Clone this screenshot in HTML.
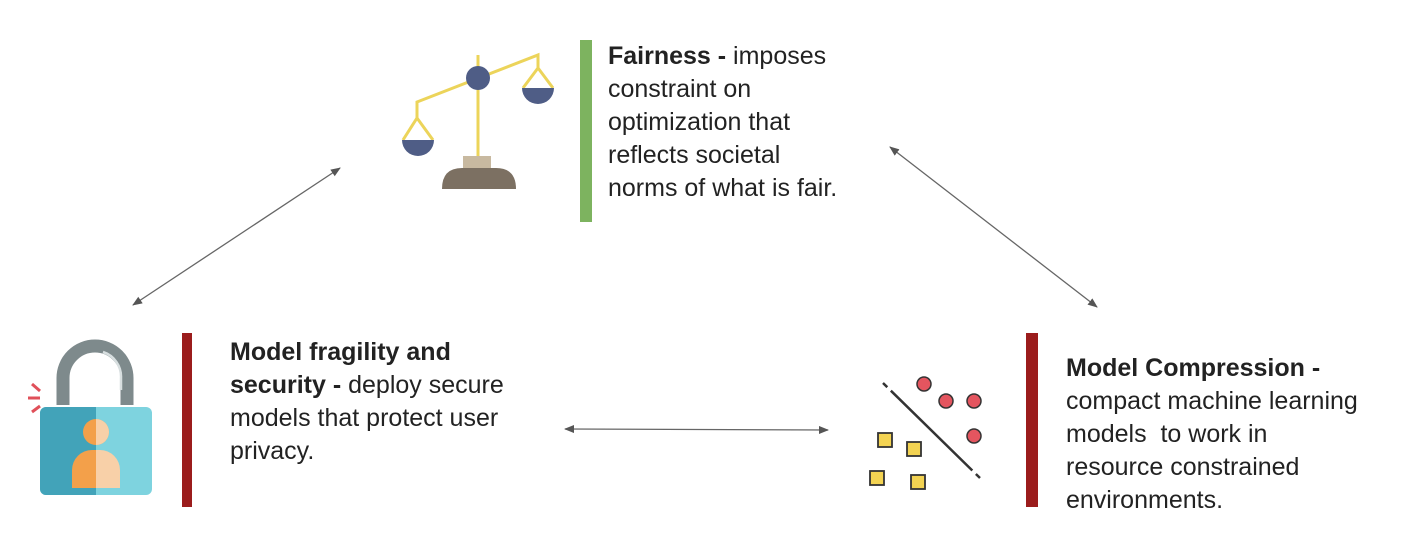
<!DOCTYPE html>
<html><head><style>
body{margin:0;width:1410px;height:552px;background:#fff;position:relative;overflow:hidden;font-family:"Liberation Sans",sans-serif;color:#222}
.t{position:absolute;font-size:25px;line-height:33px;white-space:nowrap}
b{font-weight:bold}
</style></head><body>
<svg width="1410" height="552" style="position:absolute;left:0;top:0">
<defs><marker id="a" markerWidth="10" markerHeight="8" refX="9" refY="4" orient="auto-start-reverse" markerUnits="userSpaceOnUse"><path d="M0,0 L10,4 L0,8 z" fill="#555"/></marker></defs>
<g stroke="#666" stroke-width="1.3" marker-start="url(#a)" marker-end="url(#a)">
<line x1="133" y1="305" x2="340" y2="168"/>
<line x1="890" y1="147" x2="1097" y2="307"/>
<line x1="565" y1="429" x2="828" y2="430"/>
</g>
<rect x="580" y="40" width="12" height="182" fill="#7db35f"/>
<rect x="182" y="333" width="10" height="174" fill="#9b1c1c"/>
<rect x="1026" y="333" width="12" height="174" fill="#9b1c1c"/>
<g stroke="#ecd45a" stroke-width="3" fill="none">
<line x1="478" y1="55" x2="478" y2="158"/>
<polyline points="417,118 417,102 538,55 538,68"/>
<path d="M403,140 L417,118 L433,140"/>
<path d="M523,88 L538,68 L553,88"/>
</g>
<circle cx="478" cy="78" r="12" fill="#4f5d86"/>
<path d="M402,140 A16,16 0 0 0 434,140 Z" fill="#4f5d86"/>
<path d="M522,88 A16,16 0 0 0 554,88 Z" fill="#4f5d86"/>
<rect x="463" y="156" width="28" height="12" fill="#c8b9a0"/>
<path d="M442,189 Q442,168 462,168 L496,168 Q516,168 516,189 Z" fill="#7c7062"/>
<path d="M63,405 L63,378 A32,32 0 0 1 127,378 L127,405" stroke="#7e8a8c" stroke-width="13" fill="none"/>
<path d="M103,352 A26,26 0 0 1 121,378 L121,390" stroke="#d8dfe0" stroke-width="2.5" fill="none"/>
<g stroke="#e0505a" stroke-width="3"><line x1="28" y1="398" x2="40" y2="398"/><line x1="32" y1="384" x2="40" y2="391"/><line x1="32" y1="412" x2="40" y2="406"/></g>
<rect x="40" y="407" width="112" height="88" rx="6" fill="#7ed3df"/>
<path d="M46,407 L96,407 L96,495 L46,495 A6,6 0 0 1 40,489 L40,413 A6,6 0 0 1 46,407Z" fill="#42a3b9"/>
<circle cx="96" cy="432" r="13" fill="#f3a04a"/>
<path d="M72,488 L72,470 A20,20 0 0 1 92,450 L96,450 L96,488Z" fill="#f3a04a"/>
<path d="M96,419 A13,13 0 0 1 96,445Z" fill="#f8d0a8"/>
<path d="M96,450 L100,450 A20,20 0 0 1 120,470 L120,488 L96,488Z" fill="#f8d0a8"/>
<line x1="883" y1="383" x2="980" y2="478" stroke="#333" stroke-width="2.5" stroke-dasharray="6,5,114,5,6"/>
<g fill="#e4555f" stroke="#333" stroke-width="1.5">
<circle cx="924" cy="384" r="7"/><circle cx="946" cy="401" r="7"/><circle cx="974" cy="401" r="7"/><circle cx="974" cy="436" r="7"/></g>
<g fill="#f3d352" stroke="#333" stroke-width="1.8">
<rect x="878" y="433" width="14" height="14"/><rect x="907" y="442" width="14" height="14"/><rect x="870" y="471" width="14" height="14"/><rect x="911" y="475" width="14" height="14"/></g>
</svg>
<div class="t" style="left:608px;top:40px"><b>Fairness -</b> imposes<br>constraint on<br>optimization that<br>reflects societal<br>norms of what is fair.</div>
<div class="t" style="left:230px;top:336px"><b>Model fragility and<br>security -</b> deploy secure<br>models that protect user<br>privacy.</div>
<div class="t" style="left:1066px;top:352px"><b>Model Compression -</b><br>compact machine learning<br>models &nbsp;to work in<br>resource constrained<br>environments.</div>
</body></html>
